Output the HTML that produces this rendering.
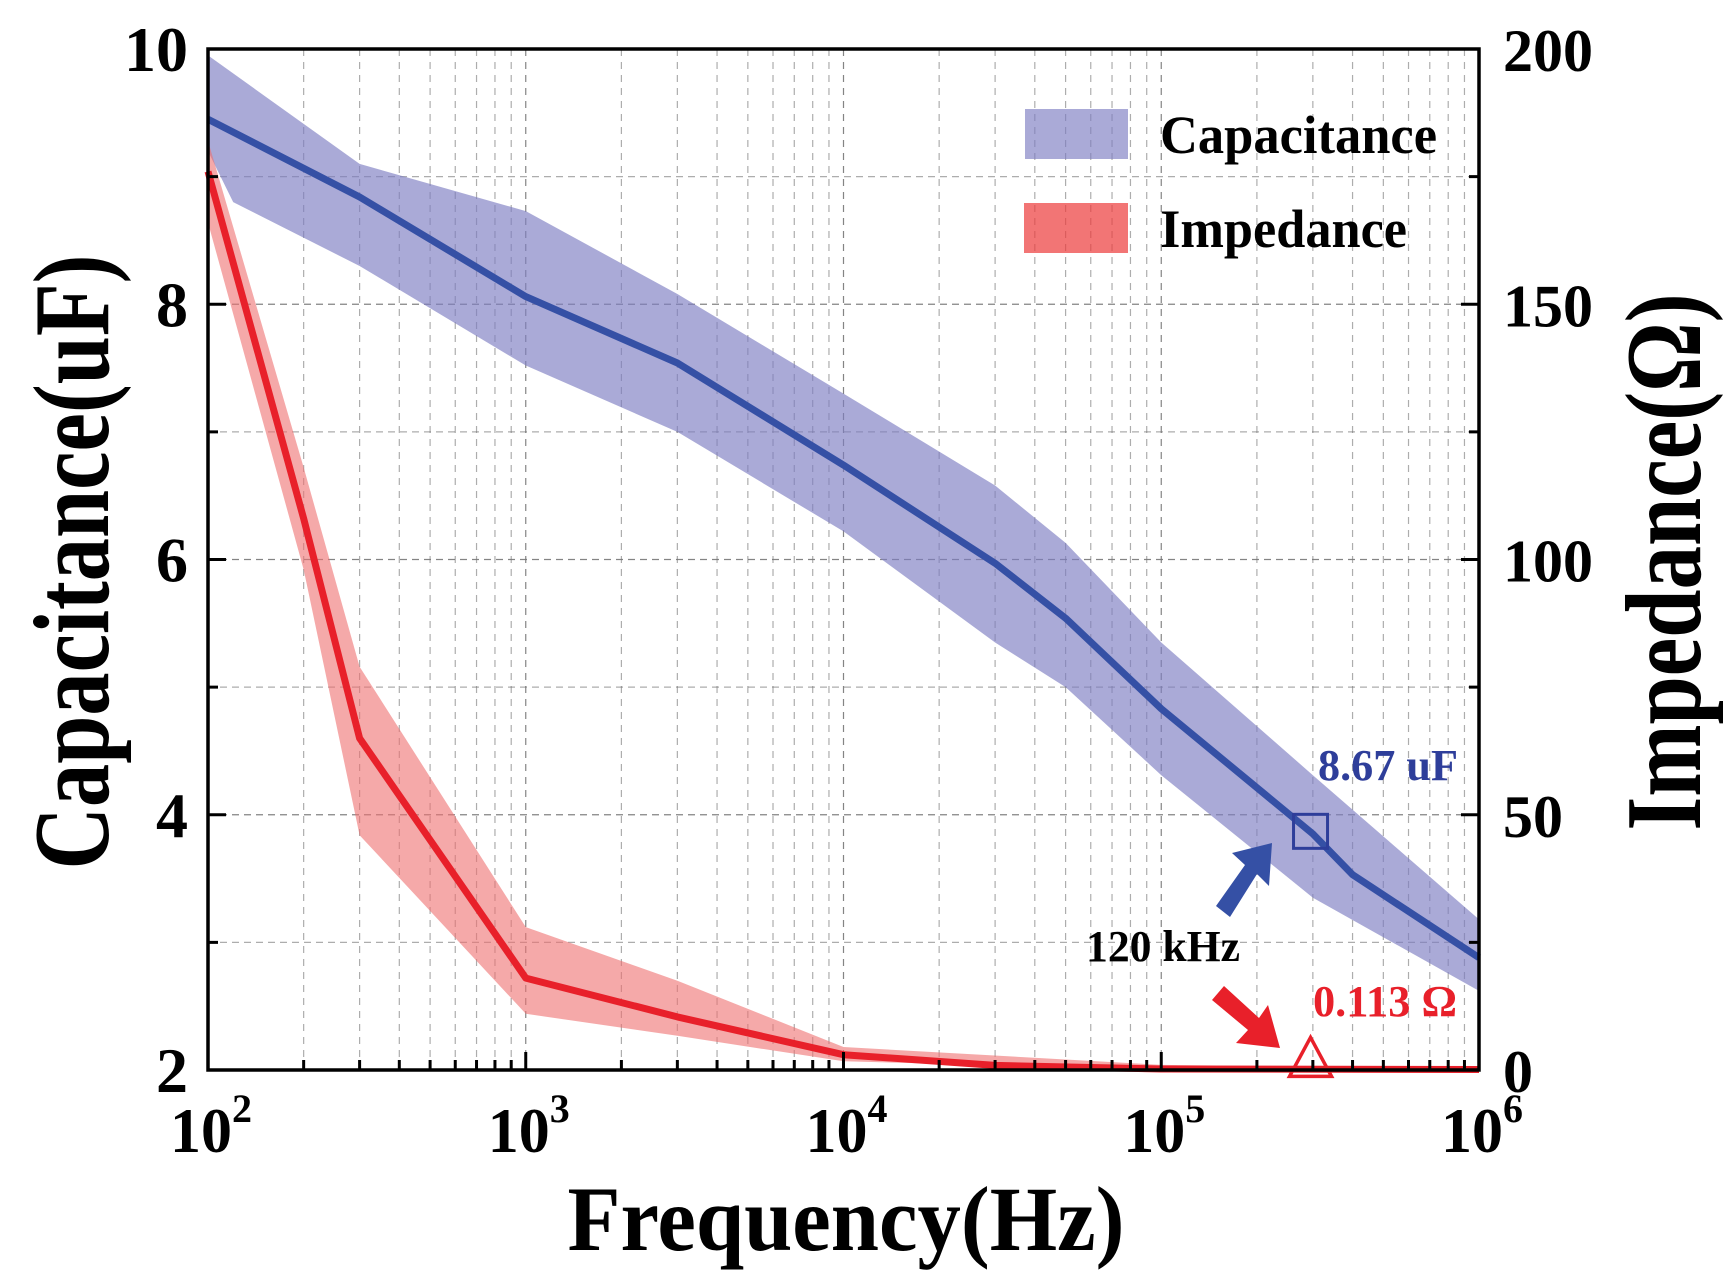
<!DOCTYPE html>
<html><head><meta charset="utf-8"><style>
html,body{margin:0;padding:0;background:#fff;}
svg{display:block;}
text{font-family:"Liberation Serif",serif;font-weight:bold;}
</style></head>
<body>
<svg id="chart" width="1729" height="1285" viewBox="0 0 1729 1285" xmlns="http://www.w3.org/2000/svg">
<g id="grid"></g>
<g id="bands"></g>
<g id="lines"></g>
<g id="axes"></g>
<g id="legend">
  <rect x="1025" y="109" width="103" height="50" fill="#7c7dc2" fill-opacity="0.65"/>
  <text x="1160" y="153" font-size="54" textLength="277" lengthAdjust="spacingAndGlyphs">Capacitance</text>
  <rect x="1024" y="203" width="104" height="50" fill="#ec3b3b" fill-opacity="0.7"/>
  <text x="1160" y="247" font-size="54" textLength="247" lengthAdjust="spacingAndGlyphs">Impedance</text>
</g>
<g id="annot">
  <text x="1318" y="780" font-size="44" fill="#2e3e9a" textLength="140" lengthAdjust="spacingAndGlyphs">8.67 uF</text>
  <text x="1086" y="961" font-size="44" fill="#000" textLength="154" lengthAdjust="spacingAndGlyphs">120 kHz</text>
  <text x="1313" y="1016" font-size="44" fill="#e8202a" textLength="144" lengthAdjust="spacingAndGlyphs">0.113 Ω</text>
  <polygon points="1272,843 1269,886 1257,874 1230,917 1216,906 1245,865 1232,853" fill="#3550a5"/>
  <polygon points="1280,1048 1236,1043 1248,1030 1212,1000 1224,986 1259,1018 1268,1005" fill="#e8202a"/>
</g>
<g id="titles">
  <text transform="translate(108,562) rotate(-90)" text-anchor="middle" font-size="108" textLength="615" lengthAdjust="spacingAndGlyphs">Capacitance(uF)</text>
  <text transform="translate(1700,562) rotate(-90)" text-anchor="middle" font-size="108" textLength="537" lengthAdjust="spacingAndGlyphs">Impedance(Ω)</text>
  <text x="846" y="1250" text-anchor="middle" font-size="92" textLength="557" lengthAdjust="spacingAndGlyphs">Frequency(Hz)</text>
</g>
</svg>
<script>
const freqs = [100, 300, 1000, 3000, 10000, 30000, 50000, 100000, 300000, 400000, 1000000];
const capMean = [9.45, 8.84, 8.06, 7.54, 6.74, 5.97, 5.54, 4.83, 3.85, 3.53, 2.88];
const capBandFreqs = [100, 300, 1000, 3000, 10000, 30000, 50000, 100000, 300000, 1000000];
const capUpper = [9.95, 9.1, 8.73, 8.08, 7.3, 6.58, 6.13, 5.35, 4.31, 3.18];
const capLowerFreqs = [100, 120, 300, 1000, 3000, 10000, 30000, 50000, 100000, 300000, 1000000];
const capLower = [9.2, 8.8, 8.3, 7.52, 7.0, 6.22, 5.35, 5.0, 4.31, 3.35, 2.62];
const impFreqs = [100, 200, 300, 1000, 3000, 10000, 30000, 100000, 1000000];
const impMean = [176, 108, 65, 18, 10.4, 3, 0.9, 0.2, 0.1];
const impBandFreqs = [100, 200, 300, 1000, 3000, 10000, 100000, 1000000];
const impUpper = [182, 118, 79, 28, 17.5, 4.5, 1, 0.3];
const impLower = [166, 98, 46, 11, 6.7, 1.7, 0.1, 0];
const markerFreq = [295000];
const markerCap = [3.87];
const markerImp = [0.113];
const capTicks = [2, 4, 6, 8, 10];
const impTicks = [0, 50, 100, 150, 200];
const decadeExps = [2, 3, 4, 5, 6];

const L = 208, R = 1479, T = 49, B = 1070;
const NS = 'http://www.w3.org/2000/svg';
function xS(f){ return L + (Math.log10(f) - 2) / 4 * (R - L); }
function yC(c){ return B - (c - 2) / 8 * (B - T); }
function yI(v){ return B - v / 200 * (B - T); }
function mk(tag, attrs, parent){
  const e = document.createElementNS(NS, tag);
  for (const k in attrs) e.setAttribute(k, attrs[k]);
  parent.appendChild(e); return e;
}
const grid = document.getElementById('grid');
const bands = document.getElementById('bands');
const lines = document.getElementById('lines');
const axes = document.getElementById('axes');

for (let d = 2; d < 6; d++) {
  for (let m = 1; m < 10; m++) {
    const x = xS(m * Math.pow(10, d));
    const g = mk('line', {x1:x, x2:x, y1:T, y2:B, stroke:'#777', 'stroke-width':1.2, 'stroke-dasharray':'7,6', opacity: m===1?0.9:0.6}, grid);
    
    
  }
}
for (let c = 3; c <= 9; c++) {
  const y = yC(c);
  const g = mk('line', {x1:L, x2:R, y1:y, y2:y, stroke:'#777', 'stroke-width':1.2, 'stroke-dasharray':'7,5', opacity: c%2===0?0.9:0.6}, grid);
  
  
}

function bandPath(fu, up, fl, lo, ys){
  let d = '';
  fu.forEach((f,i)=>{ d += (i?'L':'M') + xS(f).toFixed(1) + ',' + ys(up[i]).toFixed(1); });
  for (let i = fl.length - 1; i >= 0; i--) d += 'L' + xS(fl[i]).toFixed(1) + ',' + ys(lo[i]).toFixed(1);
  return d + 'Z';
}
function linePath(fs, vs, ys){
  return fs.map((f,i)=>(i?'L':'M') + xS(f).toFixed(1) + ',' + ys(vs[i]).toFixed(1)).join('');
}
const cb = mk('path', {d: bandPath(capBandFreqs, capUpper, capLowerFreqs, capLower, yC), fill:'#7c7dc2', 'fill-opacity':0.65}, bands);


const ib = mk('path', {d: bandPath(impBandFreqs, impUpper, impBandFreqs, impLower, yI), fill:'#ef6f6f', 'fill-opacity':0.6}, bands);


const cl = mk('path', {d: linePath(freqs, capMean, yC), fill:'none', stroke:'#3550a5', 'stroke-width':7, 'stroke-linejoin':'round'}, lines);


const il = mk('path', {d: linePath(impFreqs, impMean, yI), fill:'none', stroke:'#e8202a', 'stroke-width':7, 'stroke-linejoin':'round'}, lines);


const mx = xS(markerFreq[0]), my = yC(markerCap[0]);
const sq = mk('rect', {x:mx-17, y:my-17, width:34, height:34, fill:'none', stroke:'#2e3e9a', 'stroke-width':3}, lines);


const ty = yI(markerImp[0]);
const tri = mk('polygon', {points:`${mx},${ty-32} ${mx-21},${ty+7} ${mx+21},${ty+7}`, fill:'none', stroke:'#e8202a', 'stroke-width':3.5}, lines);



const fr = mk('rect', {x:L, y:T, width:R-L, height:B-T, fill:'none', stroke:'#000', 'stroke-width':3.5}, axes);


for (let d = 2; d <= 6; d++) {
  for (let m = 1; m < 10; m++) {
    if (d === 6 && m > 1) break;
    const x = xS(m * Math.pow(10, d));
    const len = m === 1 ? 18 : 10;
    const t = mk('line', {x1:x, x2:x, y1:B, y2:B-len, stroke:'#000', 'stroke-width':3}, axes);
    
    
  }
}
for (let c = 2; c <= 10; c++) {
  const y = yC(c);
  const t = mk('line', {x1:L, x2:L + (c%2===0?18:10), y1:y, y2:y, stroke:'#000', 'stroke-width':3}, axes);
  
  
}
for (let v = 0; v <= 200; v += 25) {
  const y = yI(v);
  const t = mk('line', {x1:R, x2:R - (v%50===0?18:10), y1:y, y2:y, stroke:'#000', 'stroke-width':3}, axes);
  
  
}
capTicks.forEach(c=>{
  const t = mk('text', {x:188, y:yC(c)+22, 'text-anchor':'end', 'font-size':64}, axes);
  t.textContent = String(c);
  
  
});
impTicks.forEach(v=>{
  const t = mk('text', {x:1503, y:yI(v)+22, 'font-size':60}, axes);
  t.textContent = String(v);
  
  
});
decadeExps.forEach(e=>{
  const x = xS(Math.pow(10, e));
  const t = mk('text', {x:x-38, y:1152, 'font-size':64, textLength:62, lengthAdjust:'spacingAndGlyphs'}, axes);
  t.textContent = '10';
  
  
  const s = mk('text', {x:x+24, y:1122, 'font-size':40}, axes);
  s.textContent = String(e);
  
  
});
</script>
</body></html>
